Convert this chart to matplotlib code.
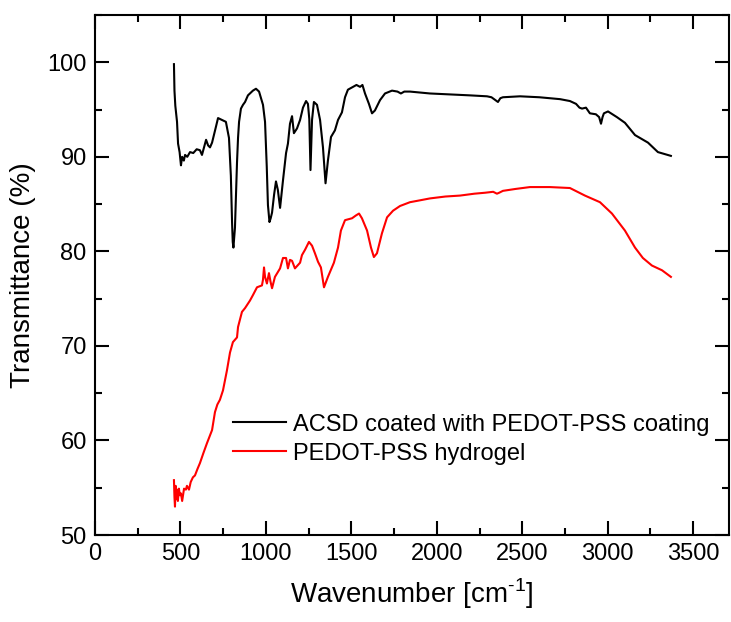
import matplotlib
matplotlib.use("Agg")
import matplotlib.pyplot as plt
from matplotlib.ticker import MultipleLocator

plt.rcParams['font.family'] = ['Liberation Sans', 'DejaVu Sans']
plt.rcParams['mathtext.fontset'] = 'custom'
plt.rcParams['mathtext.rm'] = 'Liberation Sans'

# ACSD coated with PEDOT-PSS coating (black)
acsd_x = [462, 465, 470, 480, 486, 495, 503, 510, 520, 527, 540, 556, 575, 595, 614, 626, 638,
          650, 662, 673, 685, 696, 708, 720, 743, 766, 784, 795, 802, 806, 810, 815, 819, 825,
          831, 837, 843, 854, 866, 878, 895, 924, 942, 960, 983, 995, 1005, 1012, 1021, 1028,
          1036, 1048, 1059, 1070, 1083, 1100, 1118, 1129, 1141, 1153, 1164, 1182, 1200, 1217,
          1235, 1246, 1254, 1258, 1261, 1264, 1270, 1281, 1299, 1317, 1334, 1349, 1363, 1381,
          1404, 1422, 1445, 1463, 1480, 1510, 1530, 1551, 1565, 1580, 1603, 1621, 1638, 1668,
          1697, 1738, 1770, 1790, 1810, 1843, 1960, 2077, 2194, 2294, 2320, 2335, 2358, 2372,
          2387, 2487, 2600, 2721, 2779, 2815, 2835, 2850, 2873, 2896, 2931, 2950, 2961, 2970,
          2978, 3002, 3054, 3101, 3160, 3236, 3294, 3370]
acsd_y = [99.8, 97.0, 95.4, 93.7, 91.4, 90.5, 89.1, 90.0, 89.6, 90.2, 90.0, 90.5, 90.4, 90.8,
          90.7, 90.2, 91.0, 91.8, 91.2, 91.0, 91.5, 92.3, 93.2, 94.1, 93.9, 93.7, 92.0, 88.0,
          83.1, 81.0, 80.4, 81.5, 82.5, 86.0, 89.4, 92.0, 93.7, 95.1, 95.5, 95.8, 96.5, 97.0,
          97.2, 96.9, 95.5, 93.7, 89.0, 84.9, 83.1, 83.5, 84.1, 86.0, 87.4, 86.5, 84.6, 87.5,
          90.4, 91.4, 93.5, 94.3, 92.5, 93.0, 93.9, 95.2, 95.9, 95.6, 94.0, 91.0, 88.6, 90.5,
          93.9, 95.8, 95.5, 93.9, 91.0, 87.2, 89.6, 92.1, 92.8, 93.9, 94.7, 96.3, 97.1, 97.4,
          97.6, 97.4, 97.6, 96.7, 95.6, 94.6, 94.9, 96.0, 96.7, 97.0, 96.9, 96.7, 96.9, 96.9,
          96.7, 96.6, 96.5, 96.4, 96.3, 96.1, 95.8, 96.2, 96.3, 96.4, 96.3, 96.1, 95.9, 95.6,
          95.2, 95.1, 95.2, 94.6, 94.5, 94.2, 93.5, 94.2, 94.6, 94.8, 94.2, 93.6, 92.3, 91.5,
          90.5, 90.1]

# PEDOT-PSS hydrogel (red)
hydro_x = [462, 465, 468, 472, 476, 480, 485, 491, 497, 503, 510, 521, 532, 538, 550, 560, 573,
           585, 600, 614, 635, 655, 670, 685, 702, 716, 731, 749, 772, 790, 807, 831, 837, 860,
           878, 907, 925, 948, 977, 983, 989, 995, 1006, 1018, 1027, 1036, 1053, 1083, 1100,
           1118, 1129, 1141, 1153, 1170, 1200, 1211, 1230, 1252, 1270, 1287, 1305, 1322, 1340,
           1363, 1398, 1422, 1439, 1463, 1504, 1527, 1545, 1562, 1592, 1615, 1632, 1650, 1679,
           1709, 1744, 1785, 1843, 1902, 1960, 2050, 2136, 2220, 2282, 2330, 2352, 2365, 2387,
           2460, 2545, 2662, 2779, 2867, 2955, 3025, 3101, 3160, 3206, 3259, 3318, 3370]
hydro_y = [55.8, 54.0, 53.0, 55.2, 53.8, 54.8, 53.6, 54.9, 54.2, 54.4, 53.6, 54.9, 54.8, 55.2,
           54.8, 55.6, 56.1, 56.3, 57.0, 57.6, 58.7, 59.7, 60.4, 61.1, 63.0, 63.8, 64.3, 65.3,
           67.4, 69.3, 70.4, 70.9, 72.0, 73.6, 74.0, 74.8, 75.4, 76.2, 76.4, 77.0, 78.3, 77.3,
           76.6, 77.7, 76.8, 76.1, 77.3, 78.2, 79.3, 79.3, 78.2, 79.1, 79.0, 78.2, 78.8, 79.6,
           80.2, 81.0, 80.6, 79.8, 78.9, 78.3, 76.2, 77.3, 78.8, 80.4, 82.2, 83.3, 83.5, 83.8,
           84.0, 83.5, 82.2, 80.4, 79.4, 79.8, 81.9, 83.6, 84.3, 84.8, 85.2, 85.4, 85.6, 85.8,
           85.9, 86.1, 86.2, 86.3, 86.1, 86.2, 86.4, 86.6, 86.8, 86.8, 86.7, 85.9, 85.2, 84.0,
           82.2, 80.4, 79.3, 78.5, 78.0, 77.3]

series_labels = ["ACSD coated with PEDOT-PSS coating", "PEDOT-PSS hydrogel"]

fig = plt.figure(figsize=(7.31, 6.22), dpi=100)
ax = fig.add_axes([95 / 731, 1 - 535 / 622, 634 / 731, 520 / 622])

ax.plot(acsd_x, acsd_y, color="black", lw=1.5, label=series_labels[0])
ax.plot(hydro_x, hydro_y, color="red", lw=1.5, label=series_labels[1])

ax.set_xlim(0, 3710)
ax.set_ylim(50, 105)
ax.xaxis.set_major_locator(MultipleLocator(500))
ax.xaxis.set_minor_locator(MultipleLocator(250))
ax.yaxis.set_major_locator(MultipleLocator(10))
ax.yaxis.set_minor_locator(MultipleLocator(5))

ax.tick_params(which="both", direction="in", top=True, right=True, width=1.5,
               labelsize=17, pad=6)
ax.tick_params(which="major", length=10)
ax.tick_params(which="minor", length=5)
for sp in ax.spines.values():
    sp.set_linewidth(1.5)

ax.set_xlabel("Wavenumber [cm$^{\\mathregular{\u2010}1}$]", fontsize=20, labelpad=8)
ax.set_ylabel("Transmittance (%)", fontsize=20, labelpad=8)

leg = ax.legend(loc="lower left", bbox_to_anchor=(0.2028, 0.117), frameon=False, fontsize=17,
                handlelength=2.25, handletextpad=0.3, labelspacing=0.3, borderaxespad=0)

fig.savefig("out.png", dpi=100)
